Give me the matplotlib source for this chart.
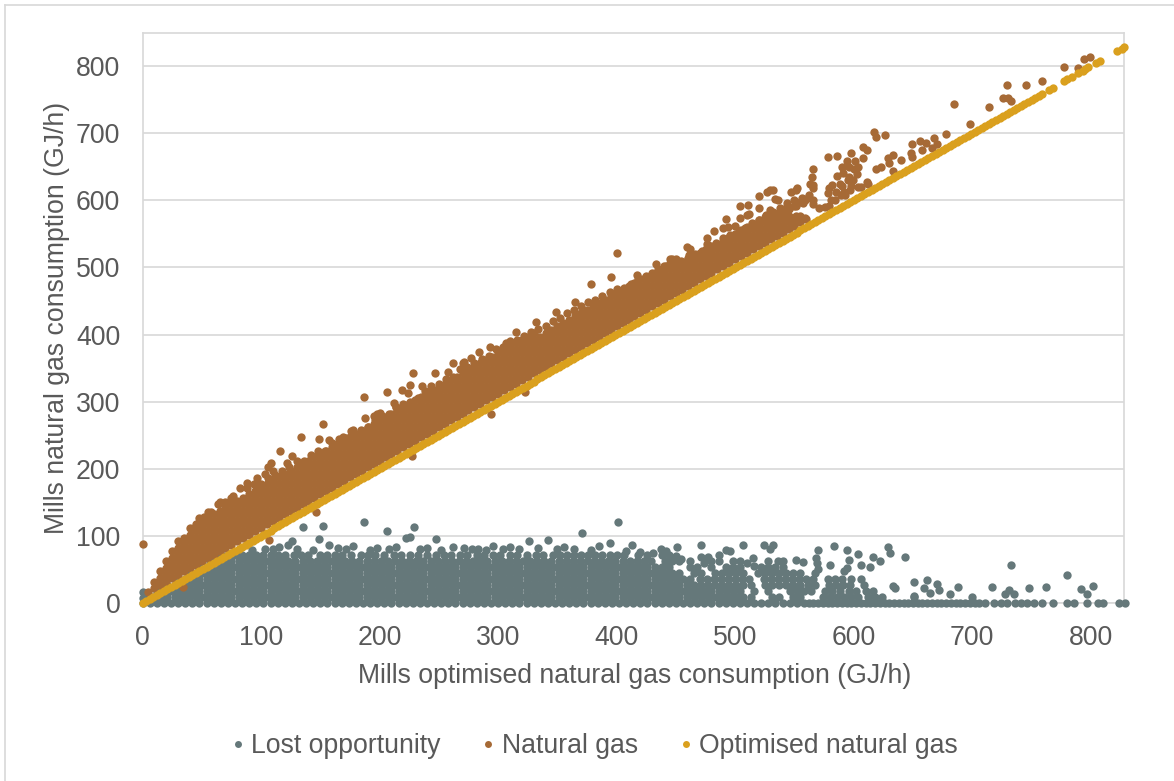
import matplotlib
matplotlib.use("Agg")
import matplotlib.pyplot as plt
from matplotlib.lines import Line2D

plt.rcParams["font.family"] = ["Liberation Sans", "DejaVu Sans"]

# Lost opportunity: the dense cloud is read as rows of points at about the same height
lost_x_0 = [0, 6, 12, 18, 24, 30, 36, 42, 48, 54, 60, 66, 72, 78, 84, 90, 96, 102, 108, 114, 120, 126, 132, 138, 144, 150, 156, 162, 168, 174, 180, 186, 192, 198, 204, 210, 216, 222, 228, 234, 240, 246, 252, 258, 264, 270, 276, 282, 288, 294, 300, 306, 312, 318, 324, 330, 336, 342, 348, 354, 360, 366, 372, 378, 384, 390, 396, 402, 408, 414, 420, 426, 432, 438, 444, 450, 456, 462, 468, 474, 480, 486, 492, 498, 504, 510, 516, 522, 528, 534, 540, 546, 552, 558, 562, 566, 570, 574, 578, 582, 586, 590, 594, 598, 602, 606, 610, 614, 618, 622, 626, 630, 634, 638, 642, 646, 650, 654, 658, 662, 666, 670, 674, 678, 682, 686, 690, 694, 698, 702, 706, 711, 718, 724, 729, 736, 741, 746, 752, 759, 768, 780, 786, 797, 806, 810, 824, 829]
lost_x_9 = [3, 9, 15, 21, 27, 33, 39, 45, 51, 57, 63, 69, 75, 81, 87, 93, 99, 105, 111, 117, 123, 129, 135, 141, 147, 153, 159, 165, 171, 177, 183, 189, 195, 201, 207, 213, 219, 225, 231, 237, 243, 249, 255, 261, 267, 273, 279, 285, 291, 297, 303, 309, 315, 321, 327, 333, 339, 345, 351, 357, 363, 369, 375, 381, 387, 393, 399, 405, 411, 417, 423, 429, 435, 441, 447, 453, 459, 465, 471, 477, 483, 489, 495, 501, 507, 513, 531, 537, 549, 555, 574, 580, 586, 592, 598, 604, 612, 618, 624, 651]
lost_x_18 = [12, 18, 24, 30, 36, 42, 48, 54, 60, 66, 72, 78, 84, 90, 96, 102, 108, 114, 120, 126, 132, 138, 144, 150, 156, 162, 168, 174, 180, 186, 192, 198, 204, 210, 216, 222, 228, 234, 240, 246, 252, 258, 264, 270, 276, 282, 288, 294, 300, 306, 312, 318, 324, 330, 336, 342, 348, 354, 360, 366, 372, 378, 384, 390, 396, 402, 408, 414, 420, 426, 432, 438, 444, 450, 456, 462, 468, 474, 480, 486, 492, 498, 504, 516, 528, 546, 552, 558, 564, 576, 582, 588, 596, 602, 610, 616]
lost_x_27 = [21, 27, 33, 39, 45, 51, 57, 63, 69, 75, 81, 87, 93, 99, 105, 111, 117, 123, 129, 135, 141, 147, 153, 159, 165, 171, 177, 183, 189, 195, 201, 207, 213, 219, 225, 231, 237, 243, 249, 255, 261, 267, 273, 279, 285, 291, 297, 303, 309, 315, 321, 327, 333, 339, 345, 351, 357, 363, 369, 375, 381, 387, 393, 399, 405, 411, 417, 423, 429, 435, 441, 447, 453, 459, 465, 471, 477, 483, 489, 495, 501, 507, 513, 525, 531, 537, 543, 549, 555, 561, 567, 579, 585, 591, 597, 609]
lost_x_36 = [30, 36, 42, 48, 54, 60, 66, 72, 78, 84, 90, 96, 102, 108, 114, 120, 126, 132, 138, 144, 150, 156, 162, 168, 174, 180, 186, 192, 198, 204, 210, 216, 222, 228, 234, 240, 246, 252, 258, 264, 270, 276, 282, 288, 294, 300, 306, 312, 318, 324, 330, 336, 342, 348, 354, 360, 366, 372, 378, 384, 390, 396, 402, 408, 414, 420, 426, 432, 438, 444, 450, 456, 462, 470, 476, 482, 488, 494, 500, 506, 512, 524, 530, 536, 542, 548, 554, 560, 566, 578, 584, 590, 598, 606]
lost_x_45 = [39, 45, 51, 57, 63, 69, 75, 81, 87, 93, 99, 105, 111, 117, 123, 129, 135, 141, 147, 153, 159, 165, 171, 177, 183, 189, 195, 201, 207, 213, 219, 225, 231, 237, 243, 249, 255, 261, 267, 273, 279, 285, 291, 297, 303, 309, 315, 321, 327, 333, 339, 345, 351, 357, 363, 369, 375, 381, 387, 393, 399, 405, 411, 417, 423, 429, 435, 441, 447, 453, 465, 471, 483, 489, 495, 501, 507, 519, 525, 531, 537, 543, 549, 555, 567]
lost_x_54 = [48, 54, 60, 66, 72, 78, 84, 90, 96, 102, 108, 114, 120, 126, 132, 138, 144, 150, 156, 162, 168, 174, 180, 186, 192, 198, 204, 210, 216, 222, 228, 234, 240, 246, 252, 258, 264, 270, 276, 282, 288, 294, 300, 306, 312, 318, 324, 330, 336, 342, 348, 354, 360, 366, 372, 378, 384, 390, 396, 402, 408, 414, 420, 426, 432, 438, 444, 462, 468, 480, 492, 498, 504, 522, 528, 534, 540]
lost_x_63 = [57, 63, 69, 75, 81, 87, 93, 99, 105, 111, 117, 123, 129, 135, 141, 147, 153, 159, 165, 171, 177, 183, 189, 195, 201, 207, 213, 219, 225, 231, 237, 243, 249, 255, 261, 267, 273, 279, 285, 291, 297, 303, 309, 315, 321, 327, 333, 339, 345, 351, 357, 363, 369, 375, 381, 387, 393, 399, 405, 411, 417, 423, 429, 441, 447, 453, 486, 498, 528, 536]
lost_x_72 = [66, 72, 78, 84, 90, 96, 102, 108, 114, 120, 128, 134, 140, 150, 156, 162, 168, 176, 184, 190, 196, 204, 212, 218, 226, 232, 240, 248, 254, 260, 268, 274, 282, 288, 296, 302, 310, 316, 324, 332, 338, 346, 352, 358, 364, 370, 376, 382, 388, 394, 400, 406, 418, 426, 438]
lost_y_levels = [0, 9, 18, 27, 36, 45, 54, 63, 72]

# Lost opportunity: points that stand clear of the cloud
lost_edge_x = [0, 0, 123, 126, 135, 149, 152, 157, 187, 206, 222, 226, 229, 248, 103, 115, 165, 178, 198, 214, 240, 262, 271, 283, 296, 310, 326, 342, 356, 371, 385, 394, 401, 413, 437, 442, 451, 454, 471, 471, 477, 486, 492, 496, 507, 515, 524, 529, 532, 540, 551, 557, 568, 569, 570, 570, 580, 583, 592, 594, 594, 596, 604, 606, 614, 616, 622, 629, 631, 633, 635, 643, 651, 651, 659, 662, 664, 670, 672, 681, 688, 700, 717, 728, 731, 733, 735, 748, 762, 780, 792, 797, 802, 92, 110, 130, 144, 172, 192, 208, 234, 252, 278, 290, 304, 318, 334, 350, 364, 378, 408, 420, 431, 444, 450, 462, 474, 480, 504, 510, 516]
lost_edge_y = [17, 8, 86, 92, 113, 95, 115, 86, 120, 107, 97, 98, 113, 95, 80, 84, 82, 85, 82, 84, 82, 84, 82, 81, 85, 84, 93, 94, 84, 104, 85, 89, 121, 87, 80, 77, 83, 65, 87, 68, 68, 71, 79, 77, 87, 67, 86, 81, 86, 63, 64, 61, 67, 59, 51, 79, 56, 85, 48, 52, 79, 64, 73, 57, 53, 69, 62, 84, 74, 26, 23, 69, 32, 10, 22, 34, 15, 29, 20, 13, 24, 9, 24, 14, 20, 56, 14, 23, 24, 41, 21, 13, 25, 79, 80, 81, 79, 80, 79, 81, 80, 79, 81, 79, 80, 81, 82, 80, 81, 79, 78, 76, 74, 72, 70, 62, 60, 62, 62, 60, 55]

# Natural gas: rows of the dense band, each row starts at the given column of natural_x
natural_x = [0, 5, 10, 15, 20, 25, 30, 35, 40, 45, 50, 55, 60, 65, 70, 75, 80, 85, 90, 95, 100, 105, 110, 115, 120, 125, 130, 135, 140, 145, 150, 155, 160, 165, 170, 175, 180, 185, 190, 195, 200, 205, 210, 215, 220, 225, 230, 235, 240, 245, 250, 255, 260, 265, 270, 275, 280, 285, 290, 295, 300, 305, 310, 315, 320, 325, 330, 335, 340, 345, 350, 355, 360, 365, 370, 375, 380, 385, 390, 395, 400, 405, 410, 415, 420, 425, 430, 435, 440, 445, 450, 455, 460, 465, 470, 475, 480, 485, 490, 495, 500, 505, 510, 515, 520, 525, 530, 535, 540, 545, 550, 555, 560]
natural_row_a = [17, 22, 27, 32, 37, 42, 47, 52, 57, 62, 67, 72, 77, 82, 87, 92, 97, 102, 107, 112, 117, 122, 127, 132, 137, 142, 147, 152, 157, 162, 167, 172, 177, 182, 187, 192, 197, 202, 207, 212, 217, 222, 227, 232, 237, 242, 247, 252, 257, 262, 267, 272, 277, 282, 287, 292, 297, 302, 307, 312, 317, 322, 327, 332, 337, 342, 347, 352, 357, 362, 367, 372, 377, 382, 387, 392, 397, 402, 407, 412, 417, 422, 427, 432, 437, 442, 447, 452, 457, 462, 467, 472, 477, 482, 487, 492, 497, 502, 507, 512, 517, 522, 527, 532, 537, 542, 547, 552, 557, 562, 567, 572]
natural_row_b = [32, 37, 42, 47, 52, 57, 62, 67, 72, 77, 82, 87, 92, 97, 102, 107, 112, 117, 122, 127, 132, 137, 142, 147, 152, 157, 162, 167, 172, 177, 182, 187, 192, 197, 202, 207, 212, 217, 222, 227, 232, 237, 242, 247, 252, 257, 262, 267, 272, 277, 282, 287, 292, 297, 302, 307, 312, 317, 322, 327, 332, 337, 342, 347, 352, 357, 362, 367, 372, 377, 382, 387, 392, 397, 402, 407, 412, 417, 422, 427, 432, 437, 442, 447, 452, 457, 462, 467, 472, 477, 482, 487, 492, 497, 502, 507, 512, 517, 522, 527, 532, 537, 542, 547, 552, 557, 562, 567, 572, 577]
natural_row_c = [47, 52, 57, 62, 67, 72, 77, 82, 87, 92, 97, 102, 107, 112, 117, 122, 127, 132, 137, 142, 147, 152, 157, 162, 167, 172, 177, 182, 187, 192, 197, 202, 207, 212, 217, 222, 227, 232, 237, 242, 247, 252, 257, 262, 267, 272, 277, 282, 287, 292, 297, 302, 307, 312, 317, 322, 327, 332, 337, 342, 347, 352, 357, 362, 367, 372, 377, 382, 387, 392, 397, 402, 407, 412, 417, 422, 427, 432, 437, 442, 447, 452, 457, 462, 467, 472, 477, 482, 487, 492, 497, 502, 507, 512, 517, 522, 527, 532, 537, 542, 547, 552, 557, 562, 567, 572, 577]
natural_row_d = [62, 67, 72, 77, 82, 87, 92, 97, 102, 107, 112, 117, 122, 127, 132, 137, 142, 147, 152, 157, 162, 167, 172, 177, 182, 187, 192, 197, 202, 207, 212, 217, 222, 227, 232, 237, 242, 247, 252, 257, 262, 267, 272, 277, 282, 287, 292, 297, 302, 307, 312, 317, 322, 327, 332, 337, 342, 347, 352, 357, 362, 367, 372, 377, 382, 387, 392, 397, 402, 407, 412, 417, 422, 427, 432, 437, 442, 447, 452, 457, 462, 467, 472, 477, 482, 487, 492, 497, 502, 507, 512, 517, 522, 527, 532, 537, 542, 547, 552, 557, 562]
natural_row_e = [77, 82, 87, 92, 97, 102, 107, 112, 117, 122, 127, 132, 137, 142, 147, 152, 157, 162, 167, 172, 177, 182, 187, 192, 197, 202, 207, 212, 217, 222, 227, 232, 237, 242, 247, 252, 257, 262, 267, 272, 277, 282, 287, 292, 297, 302, 307, 312, 317, 322, 327, 332, 337, 342, 347, 352, 357, 362, 367, 372, 377, 382, 387, 392, 397, 402, 407, 412, 417, 422, 427, 432, 437, 442, 447, 452, 457, 462, 467, 472, 477, 482, 487, 492, 497, 502, 507, 512, 517, 522, 527, 532]
natural_row_f = [92, 97, 102, 107, 112, 117, 122, 127, 132, 137, 142, 147, 152, 157, 162, 167, 172, 177, 182, 187, 192, 197, 202, 207, 212, 217, 222, 227, 232, 237, 242, 247, 252, 257, 262, 267, 272, 277, 282, 287, 292, 297, 302, 307, 312, 317, 322, 327, 332, 337, 342, 347, 352, 357, 362, 367, 372, 377, 382, 387, 392, 397, 402, 407, 412, 417, 422, 427, 432, 437, 442, 447, 452, 457, 462, 467, 472, 477, 482]
natural_row_g = [112, 117, 122, 127, 132, 137, 142, 147, 152, 157, 162, 167, 172, 177, 182, 187, 192, 197, 202, 207, 212, 217, 222, 227, 232, 237, 242, 247, 252, 257, 262, 267, 272, 277, 282, 287, 292, 297, 302, 307, 312, 317, 322, 327, 332, 337, 342, 347, 352, 357, 362, 367, 372, 377, 382, 387, 392, 397, 402]
natural_rows = [natural_row_a, natural_row_b, natural_row_c, natural_row_d, natural_row_e, natural_row_f, natural_row_g]
natural_row_starts = [1, 2, 3, 4, 5, 6, 8]

# Natural gas: uneven upper edge of the band
natural_top_x = [45, 52, 58, 64, 70, 76, 82, 88, 94, 100, 106, 112, 118, 124, 130, 136, 142, 148, 154, 160, 166, 172, 178, 184, 190, 196, 202, 208, 214, 220, 226, 232, 238, 244, 250, 256, 262, 268, 274, 280, 286, 292, 298, 304, 310, 316, 322, 328, 334, 340, 346, 352, 358, 364, 370, 376, 382, 388, 394, 400, 406, 412, 418, 424, 430, 436, 442, 448, 454, 460, 466, 472, 478, 484, 490, 496, 502, 508, 514, 520, 526, 532, 538, 544, 550, 556, 562, 425, 435, 440, 445, 450, 485, 490, 495, 500, 505, 510, 515, 520, 525, 530, 525, 530, 535, 540, 545, 550, 555, 560, 97, 103, 110, 176, 198, 212, 236, 258, 284, 445, 462, 476, 494, 512, 534, 552, 566, 571, 576, 584, 592, 598, 606, 612, 585, 590, 596, 604, 600, 596]
natural_top_y = [115, 128, 136, 147, 150, 160, 172, 172, 178, 178, 186, 190, 196, 202, 212, 212, 220, 226, 226, 238, 244, 246, 250, 258, 262, 272, 278, 282, 292, 296, 300, 306, 316, 318, 326, 334, 336, 348, 352, 358, 364, 368, 378, 382, 390, 392, 398, 404, 408, 412, 420, 424, 432, 436, 442, 448, 452, 458, 464, 468, 470, 476, 482, 484, 492, 494, 502, 504, 510, 514, 520, 524, 532, 536, 544, 548, 552, 558, 566, 568, 578, 582, 588, 592, 600, 604, 608, 487, 497, 502, 507, 512, 535, 540, 545, 550, 555, 560, 565, 570, 575, 580, 567, 572, 577, 582, 587, 592, 597, 602, 186, 192, 196, 256, 282, 298, 324, 344, 374, 512, 528, 544, 560, 580, 602, 618, 595, 588, 590, 600, 612, 622, 620, 624, 612, 622, 634, 650, 646, 650]

# Natural gas: points that stand clear of the band
natural_edge_x = [0, 34, 48, 55, 65, 75, 88, 96, 106, 108, 107, 116, 122, 126, 134, 146, 149, 152, 157, 169, 178, 187, 188, 195, 200, 206, 214, 219, 224, 226, 227, 228, 243, 247, 262, 270, 271, 277, 293, 294, 307, 315, 323, 332, 349, 365, 378, 395, 400, 417, 433, 447, 459, 461, 476, 482, 490, 492, 500, 504, 504, 510, 511, 520, 520, 520, 527, 527, 529, 529, 532, 534, 536, 537, 543, 544, 547, 551, 551, 551, 557, 559, 559, 563, 565, 566, 566, 566, 566, 578, 578, 579, 579, 581, 582, 586, 586, 588, 589, 590, 591, 593, 594, 595, 597, 598, 599, 601, 603, 604, 608, 608, 611, 611, 617, 619, 619, 623, 626, 629, 630, 633, 633, 640, 648, 649, 649, 656, 658, 661, 666, 668, 670, 678, 685, 698, 714, 726, 729, 730, 733, 745, 759, 777, 789, 794, 799]
natural_edge_y = [88, 24, 127, 136, 150, 156, 179, 175, 202, 208, 94, 227, 208, 219, 248, 136, 244, 267, 243, 247, 258, 307, 275, 278, 283, 314, 292, 317, 313, 325, 219, 342, 323, 342, 357, 358, 359, 365, 381, 282, 387, 404, 315, 418, 433, 449, 475, 485, 521, 488, 505, 512, 530, 518, 535, 554, 558, 572, 562, 592, 574, 578, 593, 607, 588, 571, 612, 568, 615, 586, 616, 566, 601, 581, 576, 596, 613, 615, 591, 576, 596, 601, 573, 625, 634, 646, 623, 618, 601, 665, 611, 619, 592, 601, 623, 666, 636, 625, 608, 649, 641, 608, 659, 630, 615, 671, 630, 659, 639, 620, 680, 663, 675, 628, 702, 694, 647, 649, 697, 663, 655, 667, 643, 660, 670, 684, 664, 688, 675, 686, 678, 693, 684, 699, 743, 713, 739, 753, 772, 753, 748, 772, 778, 798, 797, 811, 814]

# Optimised natural gas sits on the diagonal, so both coordinates read the same
optimised_x = [0, 3, 6, 9, 12, 15, 18, 21, 24, 27, 30, 33, 36, 39, 42, 45, 48, 51, 54, 57, 60, 63, 66, 69, 72, 75, 78, 81, 84, 87, 90, 93, 96, 99, 102, 105, 108, 111, 114, 117, 120, 123, 126, 129, 132, 135, 138, 141, 144, 147, 150, 153, 156, 159, 162, 165, 168, 171, 174, 177, 180, 183, 186, 189, 192, 195, 198, 201, 204, 207, 210, 213, 216, 219, 222, 225, 228, 231, 234, 237, 240, 243, 246, 249, 252, 255, 258, 261, 264, 267, 270, 273, 276, 279, 282, 285, 288, 291, 294, 297, 300, 303, 306, 309, 312, 315, 318, 321, 324, 327, 330, 333, 336, 339, 342, 345, 348, 351, 354, 357, 360, 363, 366, 369, 372, 375, 378, 381, 384, 387, 390, 393, 396, 399, 402, 405, 408, 411, 414, 417, 420, 423, 426, 429, 432, 435, 438, 441, 444, 447, 450, 453, 456, 459, 462, 465, 468, 471, 474, 477, 480, 483, 486, 489, 492, 495, 498, 501, 504, 507, 510, 513, 516, 519, 522, 525, 528, 531, 534, 537, 540, 543, 546, 549, 552, 555, 558, 561, 564, 567, 570, 573, 576, 579, 582, 585, 588, 591, 594, 597, 600, 603, 606, 609, 612, 615, 618, 621, 624, 627, 630, 633, 636, 639, 642, 645, 648, 651, 654, 657, 660, 663, 666, 669, 672, 675, 678, 681, 684, 687, 690, 693, 696, 699, 702, 705, 708, 711, 714, 717, 720, 723, 726, 729, 732, 735, 738, 741, 744, 747, 750, 753, 756, 759, 765, 768, 777, 780, 784, 789, 793, 795, 798, 804, 808, 822, 826, 828]
optimised_y = optimised_x

x_ticks = [0, 100, 200, 300, 400, 500, 600, 700, 800]
y_ticks = [0, 100, 200, 300, 400, 500, 600, 700, 800]

GREY = "#65787A"
BROWN = "#A66A36"
GOLD = "#DAA01E"
TEXT = "#595959"
LINE = "#D9D9D9"

fig = plt.figure(figsize=(11.74, 7.81), dpi=100)
ax = fig.add_axes([142.5 / 1174, 1 - 603 / 781, (1124 - 142.5) / 1174, (603 - 32.5) / 781])

# chart border only shows on the top and left of the picture
fig.add_artist(Line2D([4.5 / 1174, 4.5 / 1174], [0, 1 - 4.5 / 781], color=LINE, linewidth=1.25))
fig.add_artist(Line2D([4.5 / 1174, 1], [1 - 4.5 / 781, 1 - 4.5 / 781], color=LINE, linewidth=1.25))

dot = dict(s=36, linewidths=0, clip_on=False, zorder=3)

lost_rows = [lost_x_0, lost_x_9, lost_x_18, lost_x_27, lost_x_36, lost_x_45, lost_x_54, lost_x_63, lost_x_72]
for row_x, level in zip(lost_rows, lost_y_levels):
    ax.scatter(row_x, [level] * len(row_x), color=GREY, **dot)
ax.scatter(lost_edge_x, lost_edge_y, color=GREY, **dot)

for row_y, start in zip(natural_rows, natural_row_starts):
    ax.scatter(natural_x[start:start + len(row_y)], row_y, color=BROWN, **dot)
ax.scatter(natural_top_x, natural_top_y, color=BROWN, **dot)
ax.scatter(natural_edge_x, natural_edge_y, color=BROWN, **dot)

ax.scatter(optimised_x, optimised_y, color=GOLD, **dot)

ax.set_xlim(0, 828)
ax.set_ylim(0, 850)
ax.set_xticks(x_ticks)
ax.set_yticks(y_ticks)
ax.grid(axis="y", color=LINE, linewidth=1.25)
ax.set_axisbelow(True)
for spine in ax.spines.values():
    spine.set_color(LINE)
    spine.set_linewidth(1.25)
ax.tick_params(length=0, labelsize=19.2, labelcolor=TEXT)
ax.tick_params(axis="x", pad=16)
ax.tick_params(axis="y", pad=16)
ax.set_xlabel("Mills optimised natural gas consumption (GJ/h)", fontsize=19.2, color=TEXT, va="center")
ax.set_ylabel("Mills natural gas consumption (GJ/h)", fontsize=19.2, color=TEXT, va="center")
ax.xaxis.set_label_coords(0.5015, (603 - 676) / 570.5)
ax.yaxis.set_label_coords((57 - 142.5) / 981.5, 0.5)

handles = [Line2D([], [], linestyle="none", marker="o", markersize=5, markeredgewidth=0, color=c)
           for c in (GREY, BROWN, GOLD)]
fig.legend(handles, ["Lost opportunity", "Natural gas", "Optimised natural gas"],
           loc="center", bbox_to_anchor=(594.5 / 1174, 1 - 746 / 781), ncol=3, frameon=False,
           fontsize=19.2, labelcolor=TEXT, handlelength=0.5, handletextpad=0.25,
           columnspacing=1.55, borderpad=0, borderaxespad=0)

fig.savefig("out.png", dpi=100)
